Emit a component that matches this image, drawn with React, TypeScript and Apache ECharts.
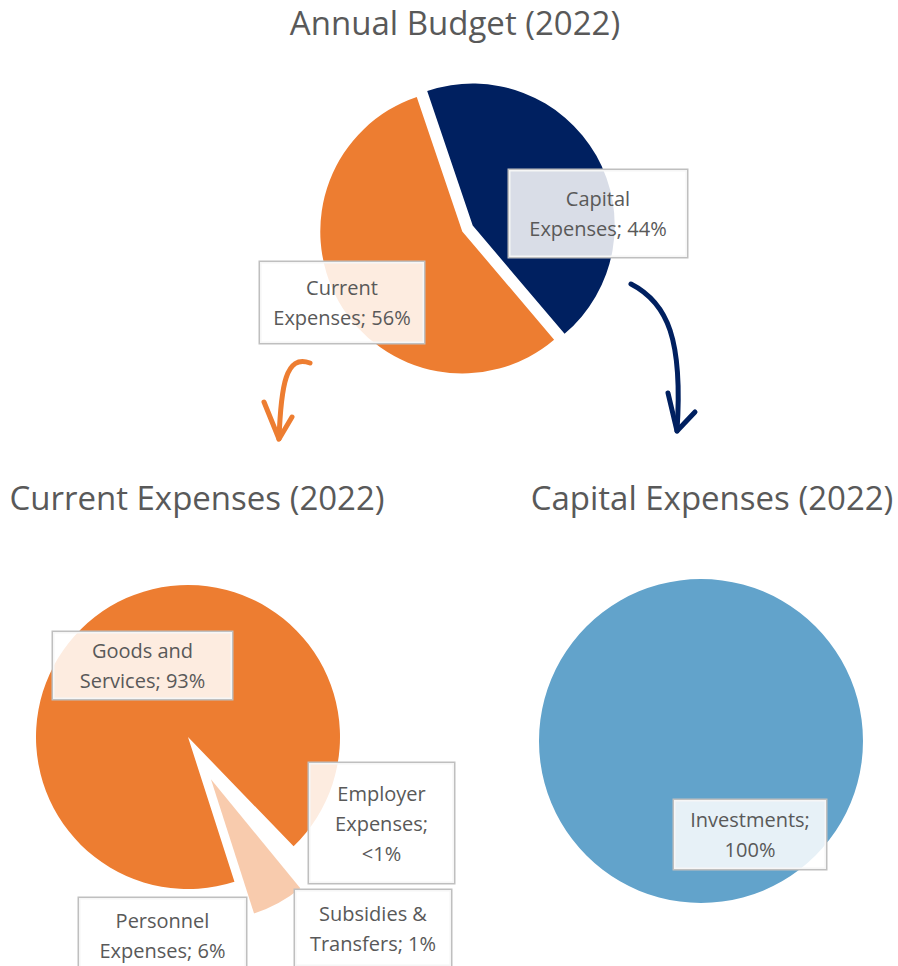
import React, { useEffect, useRef } from "react";
import * as echarts from "echarts";

// ---- Data ----
const budgetCategories = ["Capital Expenses", "Current Expenses"];
const budgetValues = [44, 56];

const currentCategories = [
  "Goods and Services",
  "Personnel Expenses",
  "Subsidies & Transfers",
  "Employer Expenses",
];
const currentValues = [93, 6, 1, 0.3];

const capitalCategories = ["Investments"];
const capitalValues = [100];

const chartTitles = [
  "Annual Budget (2022)",
  "Current Expenses (2022)",
  "Capital Expenses (2022)",
];

// ---- Styling / layout ----
const ORANGE = "#ed7d31";
const NAVY = "#002060";
const PEACH = "#f8cbad";
const BLUE = "#62a3cb";
const TEXT = "#595959";
const NONE = "rgba(0,0,0,0)";
const FONT = '"Open Sans", "DejaVu Sans", sans-serif';

const labelWrap: Record<string, string> = {
  "Capital Expenses": "Capital\nExpenses; ",
  "Current Expenses": "Current\nExpenses; ",
  "Goods and Services": "Goods and\nServices; ",
  "Personnel Expenses": "Personnel\nExpenses; ",
  "Subsidies & Transfers": "Subsidies &\nTransfers; ",
  "Employer Expenses": "Employer\nExpenses;\n",
  Investments: "Investments;\n",
};

// label box centre, width, vertical padding
const labelBoxes: Record<string, { cx: number; cy: number; w: number; pv: number }> = {
  "Capital Expenses": { cx: 598, cy: 213.5, w: 180, pv: 13.5 },
  "Current Expenses": { cx: 342, cy: 302.5, w: 166, pv: 10.5 },
  "Goods and Services": { cx: 142.5, cy: 665.5, w: 181, pv: 3.5 },
  "Personnel Expenses": { cx: 162.5, cy: 935, w: 169, pv: 7 },
  "Subsidies & Transfers": { cx: 373, cy: 928, w: 158, pv: 8 },
  "Employer Expenses": { cx: 381.5, cy: 823, w: 147, pv: 15 },
  Investments: { cx: 750, cy: 834.5, w: 154, pv: 4.5 },
};

const pctText = (v: number) => (v < 1 ? "<1%" : `${v}%`);
const fmt = (p: any) => `${labelWrap[p.name]}${pctText(p.value)}`;

const boxLabel = (name: string) => {
  const b = labelBoxes[name];
  return {
    show: true,
    position: "inside",
    formatter: fmt,
    color: TEXT,
    fontFamily: FONT,
    fontSize: 20,
    lineHeight: 30,
    width: b.w - 2,
    align: "center",
    padding: [b.pv, 0],
    backgroundColor: "rgba(255,255,255,0.85)",
    borderColor: "#bfbfbf",
    borderWidth: 1.5,
  };
};

const layoutFor = (names: string[]) => (params: any) => {
  const b = labelBoxes[names[params.dataIndex]];
  if (!b) return {};
  return { x: b.cx, y: b.cy, align: "center", verticalAlign: "middle" };
};

// explode offset of one slice: shift pie centre along slice mid-angle
const explodedCenter = (
  cx: number,
  cy: number,
  values: number[],
  idx: number,
  startAngle: number,
  clockwise: boolean,
  dist: number
): [number, number] => {
  const total = values.reduce((a, b) => a + b, 0);
  const before = values.slice(0, idx).reduce((a, b) => a + b, 0);
  const mid = ((before + values[idx] / 2) / total) * 360;
  const ang = ((startAngle + (clockwise ? -mid : mid)) * Math.PI) / 180;
  return [cx + dist * Math.cos(ang), cy - dist * Math.sin(ang)];
};

export default function App() {
  const ref = useRef<HTMLDivElement>(null);

  useEffect(() => {
    if (!ref.current) return;
    const chart = echarts.init(ref.current, undefined, { renderer: "svg" });

    const budgetColors = [NAVY, ORANGE];
    const budgetStart = 108.7;
    const budgetCenter: [number, number] = [467.5, 228.5];
    const budgetSeries = budgetCategories.map((_, k) => ({
      type: "pie",
      center: explodedCenter(budgetCenter[0], budgetCenter[1], budgetValues, k, budgetStart, true, 6),
      radius: 142,
      startAngle: budgetStart,
      clockwise: true,
      avoidLabelOverlap: false,
      labelLine: { show: false },
      labelLayout: layoutFor(budgetCategories),
      emphasis: { disabled: true },
      z: 2,
      data: budgetCategories.map((n, i) => ({
        name: n,
        value: budgetValues[i],
        itemStyle: { color: i === k ? budgetColors[i] : NONE },
        label: i === k ? boxLabel(n) : { show: false },
      })),
    }));

    const curCenter: [number, number] = [188, 737];
    const curStart = -46;
    const currentMainData = currentCategories.map((n, i) => ({
      name: n,
      value: currentValues[i],
      itemStyle: { color: i === 0 ? ORANGE : NONE },
      label: i === 0 ? boxLabel(n) : { show: false },
    }));
    const currentSmallColors = [NONE, PEACH, NONE, NONE];
    const currentSmallData = currentCategories.map((n, i) => ({
      name: n,
      value: currentValues[i],
      itemStyle: { color: currentSmallColors[i] },
      label: i === 0 ? { show: false } : boxLabel(n),
    }));

    const capitalData = capitalCategories.map((n, i) => ({
      name: n,
      value: capitalValues[i],
      itemStyle: { color: BLUE },
      label: boxLabel(n),
    }));

    const titleStyle = (text: string) => ({
      text,
      fontSize: 33,
      fontFamily: FONT,
      fill: TEXT,
      align: "center",
      verticalAlign: "middle",
      textAlign: "center",
      textVerticalAlign: "middle",
    });

    chart.setOption({
      animation: false,
      graphic: [
        { type: "text", x: 455, y: 22, style: titleStyle(chartTitles[0]) },
        { type: "text", x: 197, y: 497, style: titleStyle(chartTitles[1]) },
        { type: "text", x: 712, y: 497, style: titleStyle(chartTitles[2]) },
        // orange arrow
        {
          type: "bezierCurve",
          shape: { x1: 310, y1: 363, cpx1: 286, cpy1: 354, cpx2: 281, cpy2: 385, x2: 279, y2: 439 },
          style: { stroke: ORANGE, lineWidth: 5, fill: null, lineCap: "round" },
        },
        {
          type: "polyline",
          shape: { points: [[264, 402], [279, 439], [292, 417]] },
          style: { stroke: ORANGE, lineWidth: 5, fill: null, lineCap: "round", lineJoin: "round" },
        },
        // navy arrow
        {
          type: "bezierCurve",
          shape: { x1: 631, y1: 284, cpx1: 668, cpy1: 303, cpx2: 683, cpy2: 340, x2: 677, y2: 431 },
          style: { stroke: NAVY, lineWidth: 5, fill: null, lineCap: "round" },
        },
        {
          type: "polyline",
          shape: { points: [[668, 393], [677, 431], [695, 412]] },
          style: { stroke: NAVY, lineWidth: 5, fill: null, lineCap: "round", lineJoin: "round" },
        },
      ],
      series: [
        ...budgetSeries,
        {
          type: "pie",
          center: curCenter,
          radius: 152,
          startAngle: curStart,
          clockwise: false,
          avoidLabelOverlap: false,
          labelLine: { show: false },
          labelLayout: layoutFor(currentCategories),
          emphasis: { disabled: true },
          data: currentMainData,
        },
        {
          type: "pie",
          center: explodedCenter(curCenter[0], curCenter[1], currentValues, 1, curStart, false, 48),
          radius: 141,
          startAngle: curStart,
          clockwise: false,
          avoidLabelOverlap: false,
          labelLine: { show: false },
          labelLayout: layoutFor(currentCategories),
          emphasis: { disabled: true },
          data: currentSmallData,
        },
        {
          type: "pie",
          center: [701, 741],
          radius: 162,
          avoidLabelOverlap: false,
          labelLine: { show: false },
          labelLayout: layoutFor(capitalCategories),
          emphasis: { disabled: true },
          data: capitalData,
        },
      ],
    });

    return () => chart.dispose();
  }, []);

  return (
    <div
      ref={ref}
      style={{ position: "fixed", left: 0, top: 0, width: 898, height: 966, background: "#fff" }}
    />
  );
}
